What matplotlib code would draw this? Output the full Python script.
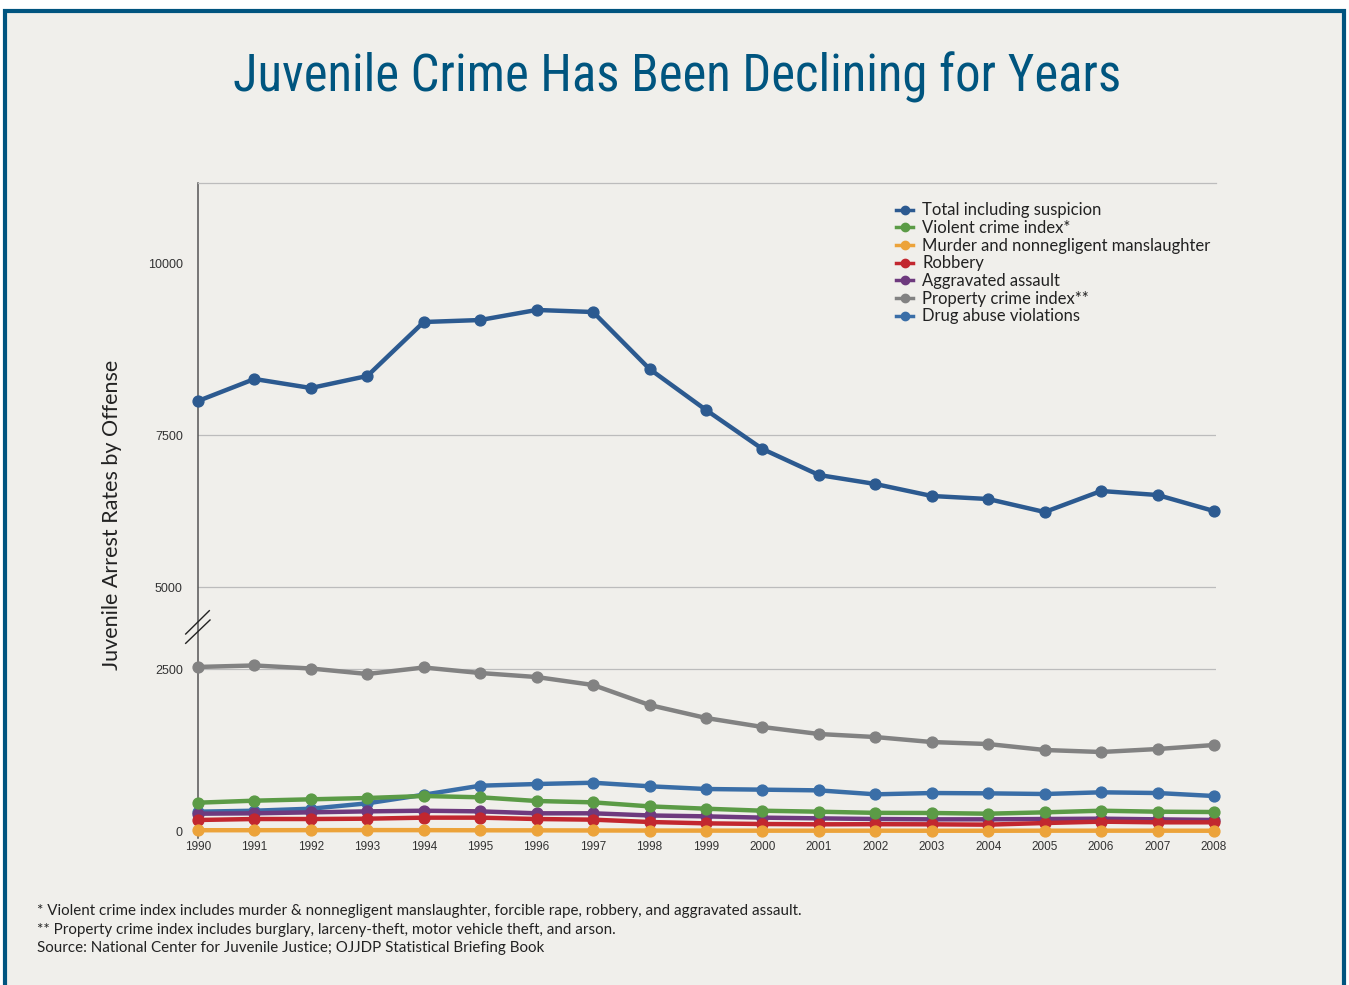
import numpy as np
import matplotlib
matplotlib.use('Agg')
import matplotlib.pyplot as plt
import matplotlib.font_manager as fm
from matplotlib.patches import Rectangle
from matplotlib.lines import Line2D

# data (rate per 100,000 juveniles)
years = list(range(1990, 2009))
total = [7997, 8319, 8187, 8363, 9152, 9181, 9328, 9298, 8465, 7866,
         7270, 6842, 6694, 6497, 6447, 6233, 6579, 6513, 6249]
violent = [437, 468, 489, 509, 540, 520, 463, 442, 380, 344,
           313, 298, 280, 278, 267, 288, 313, 298, 293]
murder = [12, 12, 13, 14, 13, 11, 10, 8, 7, 6,
          5, 5, 5, 4, 4, 5, 5, 5, 4]
robbery = [170, 185, 185, 190, 206, 206, 185, 175, 139, 118,
           108, 103, 105, 103, 98, 123, 144, 134, 134]
aggravated = [267, 273, 288, 303, 313, 303, 273, 273, 240, 226,
              206, 195, 185, 180, 180, 185, 190, 180, 170]
property_idx = [2562, 2608, 2515, 2423, 2546, 2438, 2376, 2253, 1944, 1744,
                1605, 1497, 1450, 1373, 1342, 1250, 1219, 1265, 1327]
drug = [298, 313, 344, 427, 560, 699, 725, 745, 690, 648,
        638, 627, 566, 586, 581, 571, 597, 586, 540]

labels = ['Total including suspicion', 'Violent crime index*',
          'Murder and nonnegligent manslaughter', 'Robbery',
          'Aggravated assault', 'Property crime index**', 'Drug abuse violations']
colors = ['#2c5a90', '#5b9b46', '#eca33a', '#c2272f', '#6e3a7e', '#828282', '#3a6ea7']
values = [total, violent, murder, robbery, aggravated, property_idx, drug]
yticks = [0, 2500, 5000, 7500, 10000]

# fonts
names = {f.name for f in fm.fontManager.ttflist}
title_font = 'DejaVu Sans'
for cand in ['Liberation Sans Narrow', 'Noto Sans Condensed', 'DejaVu Sans Condensed',
             'Roboto Condensed', 'Open Sans Condensed']:
    if cand in names:
        title_font = cand
        break
body_font = 'Lato' if 'Lato' in names else 'DejaVu Sans'
num_font = 'Liberation Sans' if 'Liberation Sans' in names else 'DejaVu Sans'

W, H = 1349, 985
fig = plt.figure(figsize=(W / 100, H / 100), dpi=100, facecolor='white')

def fx(px):
    return px / W

def fy(py):
    return 1 - py / H

# background panel with blue border
panel = Rectangle((fx(5), fy(1020)), fx(1339), (1020 - 11) / H, transform=fig.transFigure,
                  facecolor='#f0efeb', edgecolor='#00547f', lw=3, zorder=-5)
fig.patches.append(panel)

# title, fitted to the width of the original
title = fig.text(fx(677), fy(77), 'Juvenile Crime Has Been Declining for Years',
                 ha='center', va='center', color='#00557f', fontsize=55,
                 family=title_font, fontstretch='condensed')
r = fig.canvas.get_renderer()
tw = title.get_window_extent(r).width
title.set_fontsize(min(55, 55 * 889 / tw))

# axes with a broken (piecewise) y scale
ax = fig.add_axes([fx(198), fy(838), fx(1216 - 198), (838 - 183) / H])
ax.set_facecolor('none')
kv = [-1000, 0, 2500, 5000, 7500, 10000, 12000]
kp = [-64.8, 0, 162, 244, 396, 567, 703.8]

def fwd(v):
    return np.interp(v, kv, kp)

def inv(p):
    return np.interp(p, kp, kv)

ax.set_yscale('function', functions=(fwd, inv))
ax.set_ylim(inv(-7), inv(648))
ax.set_xlim(1990, 2008 + 2 / 56.44)

for v in yticks[1:4]:
    ax.axhline(v, color='#bcbcbc', lw=0.9, zorder=0.5)

handles = []
n = len(values)
for i in range(n - 1, -1, -1):
    ax.plot(years, values[i], '-o', color=colors[i], lw=3.2, ms=7.8,
            clip_on=False, zorder=2 + (n - i))
for i in range(n):
    handles.append(Line2D([], [], color=colors[i], lw=2.5, marker='o', ms=6, label=labels[i]))

for s in ['right', 'bottom']:
    ax.spines[s].set_visible(False)
ax.spines['top'].set_color('#bcbcbc')
ax.spines['top'].set_linewidth(0.9)
ax.spines['left'].set_color('#555555')
ax.spines['left'].set_linewidth(1.1)

ax.set_yticks(yticks)
ax.set_yticklabels([str(v) for v in yticks], family=num_font)
ax.set_xticks(years)
ax.set_xticklabels([str(y) for y in years], family=num_font)
ax.tick_params(axis='y', length=0, pad=11, labelsize=9, labelcolor='#333333')
ax.tick_params(axis='x', length=0, pad=2, labelsize=8.5, labelcolor='#333333')
ax.minorticks_off()

# axis break mark
for (x0, y0, x1, y1) in [(185.7, 634, 209.3, 610.7), (185.7, 643.3, 210, 620)]:
    fig.add_artist(Line2D([fx(x0), fx(x1)], [fy(y0), fy(y1)], transform=fig.transFigure,
                          color='#222222', lw=1))

leg = ax.legend(handles=handles, loc='upper left', bbox_to_anchor=(fx(888), fy(194)),
                bbox_transform=fig.transFigure, frameon=False, handlelength=1.0,
                handletextpad=0.55, labelspacing=0.1, borderpad=0,
                prop={'family': body_font, 'size': 12})
for t in leg.get_texts():
    t.set_color('#222222')

fig.text(fx(112), fy(515), 'Juvenile Arrest Rates by Offense', rotation=90,
         ha='center', va='center', fontsize=15.5, family=body_font, color='#222222')

notes = ['* Violent crime index includes murder & nonnegligent manslaughter, forcible rape, robbery, and aggravated assault.',
         '** Property crime index includes burglary, larceny-theft, motor vehicle theft, and arson.',
         'Source: National Center for Juvenile Justice; OJJDP Statistical Briefing Book']
for k, line in enumerate(notes):
    fig.text(fx(37), fy(911 + 18.6 * k), line, ha='left', va='center', fontsize=10.9,
             family=body_font, color='#222222')

fig.savefig('out.png', dpi=100, facecolor=fig.get_facecolor())
